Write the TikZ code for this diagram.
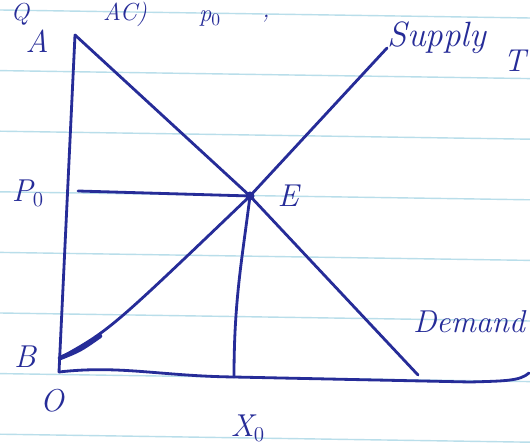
\documentclass[tikz,border=0pt]{standalone}
\definecolor{ink}{RGB}{38,44,152}
\definecolor{ruleblue}{RGB}{185,222,234}
\begin{document}
\begin{tikzpicture}[x=0.02cm,y=-0.02cm,
  inkline/.style={draw=ink, line width=1.6pt, line cap=round, line join=round},
  lbl/.style={text=ink, font=\fontsize{18}{20}\selectfont\itshape, inner sep=0pt},
  word/.style={text=ink, font=\fontsize{20}{24}\selectfont\itshape, inner sep=0pt},
  frag/.style={text=ink, font=\fontsize{14}{16}\selectfont\itshape, inner sep=0pt},
  ruling/.style={draw=ruleblue, line width=0.8pt}]
\fill[white] (0,0) rectangle (530,445);
\useasboundingbox (0,0) rectangle (530,445);
\clip (0,0) rectangle (530,445);
% ruled paper
\foreach \k in {0,...,7} \draw[ruling] (0,{10+60.6*\k}) -- (530,{18+60.6*\k});
% key points
\coordinate (top) at (75,35);
\coordinate (O) at (59,372);
\coordinate (xend) at (529,373);
\coordinate (E) at (250,196);
\coordinate (dend) at (418,375);
\coordinate (sstart) at (60,358);
\coordinate (send) at (387,48);
\coordinate (pstart) at (78,191);
\coordinate (xfoot) at (234,377);
% axes
\draw[inkline] (top) -- (O);
\draw[inkline] (O) .. controls (120,365) and (160,376) .. (234,377)
  -- (470,382) .. controls (505,381) and (520,381) .. (xend);
% demand and supply
\draw[inkline] (top) -- (E) -- (dend);
\draw[inkline] (sstart) .. controls (110,330) .. (E) -- (send);
\draw[inkline, line width=2.6pt] (sstart) .. controls (80,350) .. (100,336);
% guide lines
\draw[inkline] (pstart) -- (E);
\draw[inkline] (E) .. controls (242,260) and (234,300) .. (xfoot);
\fill[ink] (E) circle (4.5);
% labels
\node[lbl] (lA) at (37,41) {A};
\node[lbl] (lP) at (28,193) {P$_0$};
\node[lbl] (lE) at (288,196) {E};
\node[lbl] (lB) at (25,357) {B};
\node[lbl] (lO) at (52,401) {O};
\node[lbl] (lX) at (248,428) {X$_0$};
\node[word] (lS) at (437,38) {Supply};
\node[word, font=\fontsize{18}{22}\selectfont\itshape] (lD) at (469,322) {Demand};
% fragments of text at the top edge of the page
\node[frag, anchor=base] (t1) at (20,21) {Q};
\node[frag, anchor=base] (t2) at (125,21) {AC)};
\node[frag, anchor=base] (t3) at (210,22) {p$_0$};
\node[frag, anchor=base] (t4) at (266,18) {,};
\node[lbl, anchor=base west] (t5) at (503,72) {T};
\end{tikzpicture}
\end{document}
